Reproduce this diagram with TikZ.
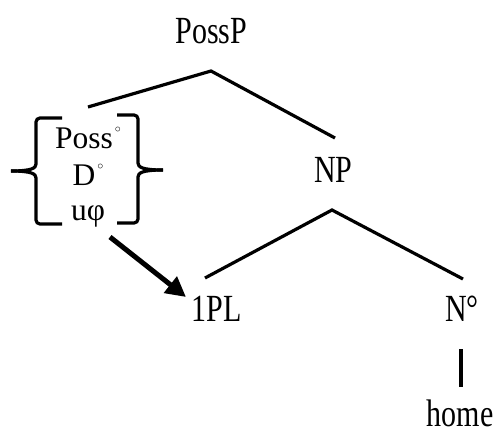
\documentclass[tikz,border=0pt]{standalone}
\usepackage{fontspec}
\setmainfont{Liberation Serif}
\usetikzlibrary{arrows.meta}
% tree labels in the reference are set a little taller than wide
\newcommand\tallt[1]{\scalebox{1}[1.28]{#1}}
\newcommand\supcirc{\kern2pt\raisebox{16pt}{\fontsize{12}{12}\selectfont$\circ$}}

\begin{document}
\begin{tikzpicture}[x=1pt,y=-1pt,
                lbl/.style={font=\fontsize{30}{36}\selectfont,inner sep=0pt,anchor=base},
                feat/.style={font=\fontsize{31.5}{36}\selectfont,inner sep=0pt,anchor=base},
                branch/.style={line width=3.2pt},
                brace/.style={line width=3.2pt,rounded corners=4pt},
                agree/.style={line width=5pt,-{Triangle[length=20pt,width=20pt]}}
            ]
                \useasboundingbox (0,0) rectangle (496,431);

                % labels
                \node[lbl] (possp) at (211.5,43) {\tallt{PossP}};
                \node[lbl] (np) at (333.5,182) {\tallt{NP}};
                \node[lbl] (pl) at (217,321) {\tallt{1PL}};
                \node[lbl] (noun) at (462,321) {\tallt{N°}};
                \node[lbl] (home) at (460,426) {\tallt{home}};

                % feature bundle
                \node[feat] (poss) at (88,148) {Poss\supcirc};
                \node[feat] (det) at (88,185) {D\supcirc};
                \node[feat] (uphi) at (88,220) {uφ};

                % branch points and ends
                \coordinate (possp-v) at (211,71);
                \coordinate (possp-l) at (88,107);
                \coordinate (possp-r) at (335,138);
                \coordinate (np-v) at (332,210);
                \coordinate (np-l) at (205,278);
                \coordinate (np-r) at (463,279);
                \coordinate (noun-lo) at (461,349);
                \coordinate (home-up) at (461,387);
                \coordinate (arr-from) at (110,237);
                \coordinate (arr-to) at (186,297);

                \draw[branch] (possp-l) -- (possp-v) -- (possp-r);
                \draw[branch] (np-l) -- (np-v) -- (np-r);
                \draw[branch] (noun-lo) -- (home-up);

                % braces
                \draw[brace] (62,118) -- (36,118) -- (36,160) .. controls (36,168) and (32,171) .. (11,171);
                \draw[brace] (11,171) .. controls (32,171) and (36,174) .. (36,182) -- (36,224) -- (62,224);
                \draw[brace] (117,115) -- (138,115) -- (138,159) .. controls (138,167) and (142,170) .. (163,170);
                \draw[brace] (163,170) .. controls (142,170) and (138,173) .. (138,181) -- (138,223) -- (117,223);

                \draw[agree] (arr-from) -- (arr-to);
            \end{tikzpicture}
\end{document}
